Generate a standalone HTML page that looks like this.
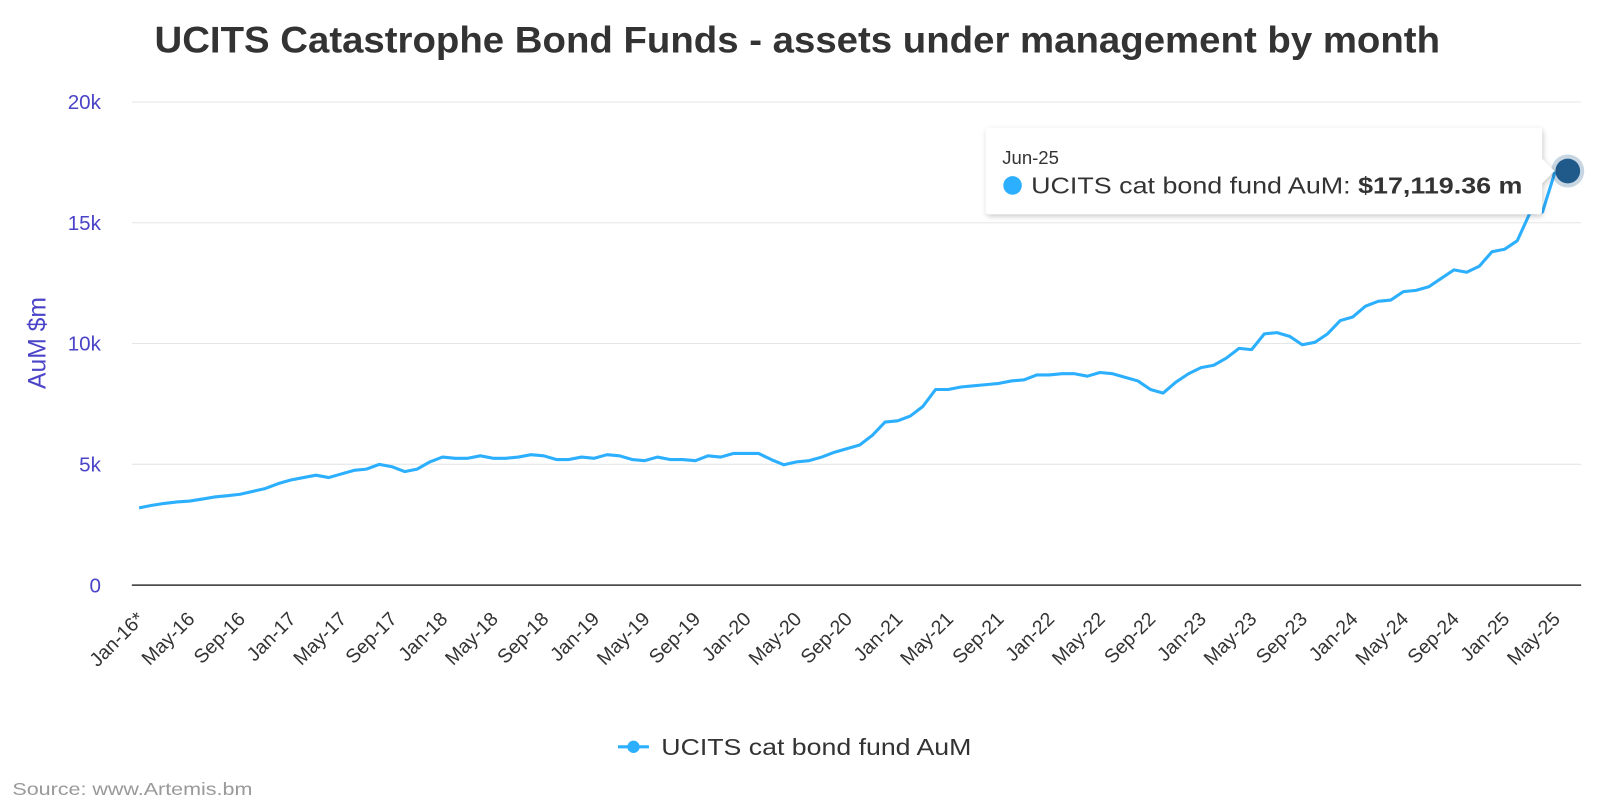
<!DOCTYPE html>
<html><head><meta charset="utf-8"><style>
html,body{margin:0;padding:0;background:#fff;width:1610px;height:804px;overflow:hidden}
svg{display:block}
text{font-family:"Liberation Sans",sans-serif}
</style></head><body>
<svg id="s" width="1610" height="804" viewBox="0 0 1563 780.5" xmlns="http://www.w3.org/2000/svg">
<defs><filter id="sh" x="-10%" y="-20%" width="120%" height="150%"><feDropShadow dx="1" dy="2" stdDeviation="2.5" flood-color="#000" flood-opacity="0.22"/></filter></defs>
<text x="150" y="51" font-size="36" font-weight="bold" fill="#333" textLength="1248" lengthAdjust="spacingAndGlyphs">UCITS Catastrophe Bond Funds - assets under management by month</text>
<g id="grid"></g>
<g id="xl"></g>
<text transform="translate(44,333) rotate(-90)" text-anchor="middle" font-size="24" fill="#4b44c8">AuM $m</text>
<path id="ln" fill="none" stroke="#2caffe" stroke-width="3" stroke-linejoin="round"/>
<circle cx="1522" cy="166" r="16" fill="#1f5a8a" fill-opacity="0.25"/>
<circle cx="1522" cy="166" r="12" fill="#1f5a8a"/>
<g filter="url(#sh)">
<path d="M960,124 H1494 Q1497,124 1497,127 V154 L1509,166 L1497,178 V205 Q1497,208 1494,208 H960 Q957,208 957,205 V127 Q957,124 960,124 Z" fill="#fff"/>
</g>
<text x="973" y="159" font-size="18" fill="#333">Jun-25</text>
<circle cx="983" cy="180" r="9" fill="#2caffe"/>
<text x="1001" y="188" font-size="22" fill="#333" textLength="477" lengthAdjust="spacingAndGlyphs">UCITS cat bond fund AuM: <tspan font-weight="bold">$17,119.36 m</tspan></text>
<line x1="600" y1="725" x2="630" y2="725" stroke="#2caffe" stroke-width="3"/>
<circle cx="615" cy="725" r="6" fill="#2caffe"/>
<text x="642" y="733" font-size="22" fill="#333" textLength="301" lengthAdjust="spacingAndGlyphs">UCITS cat bond fund AuM</text>
<text x="12" y="772" font-size="17" fill="#999" textLength="233" lengthAdjust="spacingAndGlyphs">Source: www.Artemis.bm</text>
</svg>
<script>
var v=[3200,3300,3380,3440,3480,3560,3650,3700,3760,3880,4000,4200,4350,4450,4550,4450,4600,4750,4800,5000,4900,4700,4800,5100,
5300,5250,5250,5350,5250,5250,5300,5400,5350,5200,5200,5300,5250,5400,5350,5200,5150,5300,5200,5200,5150,5350,5300,5450,
5450,5450,5200,4980,5100,5150,5300,5500,5650,5800,6200,6750,6800,7000,7400,8100,8100,8200,8250,8300,8350,8450,8500,8700,
8700,8750,8750,8650,8800,8750,8600,8450,8100,7950,8400,8750,9000,9100,9400,9800,9750,10400,10450,10300,9950,10050,10400,10950,
11100,11550,11750,11800,12150,12200,12350,12700,13050,12950,13200,13800,13900,14250,15400,15450,17119];
var NS="http://www.w3.org/2000/svg",L=128,R=1535,Y0=568,Y20=99;
function X(i){return 135+i*(1522-135)/113}
function Y(val){return Y0-(val/20000)*(Y0-Y20)}
var g=document.getElementById('grid'),d='';
function el(t,a,p,txt){var e=document.createElementNS(NS,t);for(var k in a)e.setAttribute(k,a[k]);if(txt)e.textContent=txt;p.appendChild(e);return e}
for(var k=0;k<=4;k++){var y=Y(k*5000);
 el('line',{x1:L,x2:R,y1:y,y2:y,stroke:k?'#e6e6e6':'#333','stroke-width':k?1:1.5},g);
 el('text',{x:98,y:y+7,'text-anchor':'end','font-size':20,fill:'#4b44c8'},g,k?(k*5)+'k':'0');}
var m=['Jan','May','Sep'],xl=document.getElementById('xl');
for(var i=0;i<=112;i+=4){var yr=16+Math.floor(i/12),lab=m[(i%12)/4]+'-'+yr+(i==0?'*':'');
 var x=X(i)+6;el('text',{transform:'translate('+x+',602) rotate(-45)','text-anchor':'end','font-size':19,fill:'#333'},xl,lab);}
for(var i=0;i<v.length;i++)d+=(i?'L':'M')+X(i).toFixed(1)+','+Y(v[i]).toFixed(1);
document.getElementById('ln').setAttribute('d',d);
</script>
</body></html>
